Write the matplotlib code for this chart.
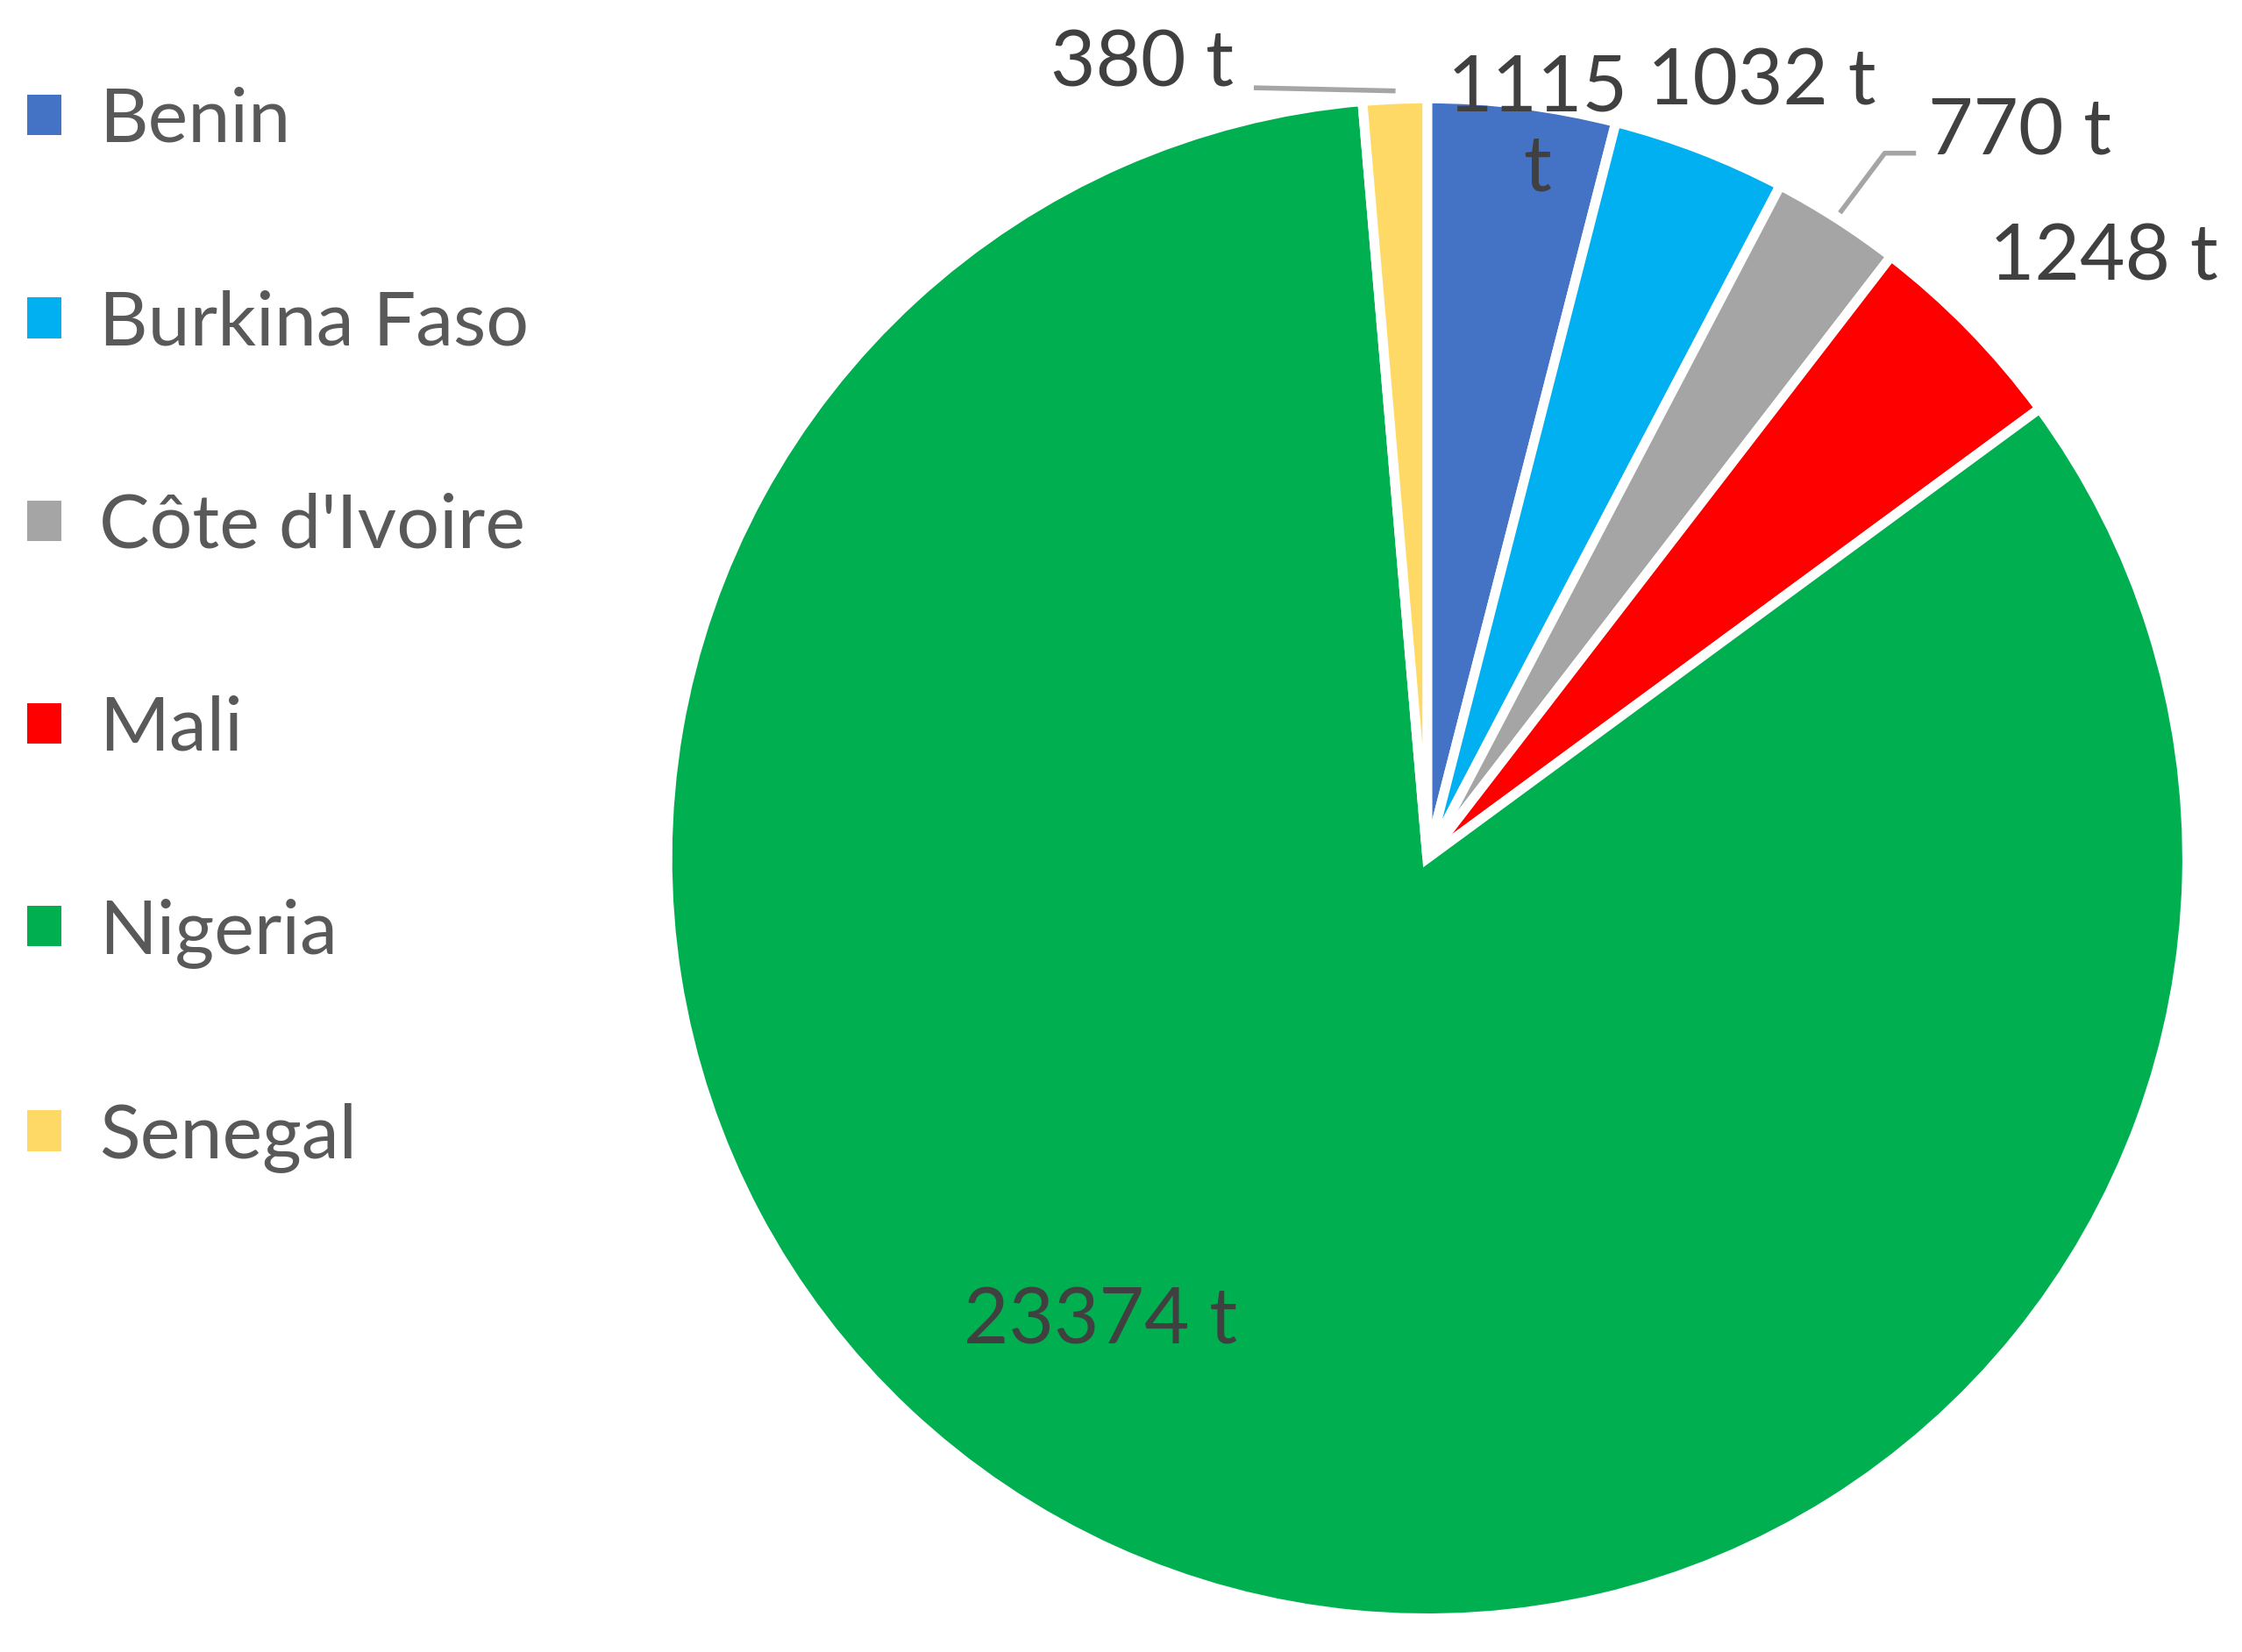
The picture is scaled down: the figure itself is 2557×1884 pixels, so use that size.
import matplotlib
matplotlib.use("Agg")
import matplotlib.pyplot as plt
from matplotlib.patches import Patch

countries = ["Benin", "Burkina Faso", "Côte d'Ivoire", "Mali", "Nigeria", "Senegal"]
tonnes = [1115, 1032, 770, 1248, 23374, 380]
colors = ["#4472C4", "#00B0F0", "#A5A5A5", "#FF0000", "#00B050", "#FFD966"]
labels = ["1115\nt", "1032 t", "770 t", "1248 t", "23374 t", "380 t"]
# label centres in pie units (radius = 1)
label_xy = [(0.145, 0.96), (0.44, 1.02), (0.78, 0.955), (0.89, 0.79), (-0.43, -0.61), (-0.375, 1.045)]

plt.rcParams["font.family"] = ["Lato", "DejaVu Sans"]
fig = plt.figure(figsize=(25.57, 18.84), dpi=100)
ax = fig.add_axes([0.2966, 0.0204, 0.68, 0.92])
ax.pie(tonnes, colors=colors, startangle=90, counterclock=False,
       wedgeprops=dict(edgecolor="white", linewidth=8))
ax.set_xlim(-1, 1); ax.set_ylim(-1, 1); ax.set_aspect("equal")
ax.axis("off")

for (x, y), t in zip(label_xy, labels):
    ax.text(x, y, t, ha="center", va="center", fontsize=64, color="#404040",
            linespacing=1.15, clip_on=False)

# leader lines
ax.plot([-0.045, -0.225], [1.01, 1.014], color="#A5A5A5", lw=4, clip_on=False)
ax.plot([0.545, 0.602, 0.64], [0.852, 0.928, 0.928], color="#A5A5A5", lw=4, clip_on=False)

handles = [Patch(facecolor=c) for c in colors]
fig.legend(handles, countries, loc="upper left", bbox_to_anchor=(-0.008, 0.975),
           frameon=False, fontsize=62, labelspacing=1.78, handlelength=0.45,
           handleheight=0.45, handletextpad=0.5, labelcolor="#595959",
           borderaxespad=0.2)

fig.savefig("out.png", dpi=100)
